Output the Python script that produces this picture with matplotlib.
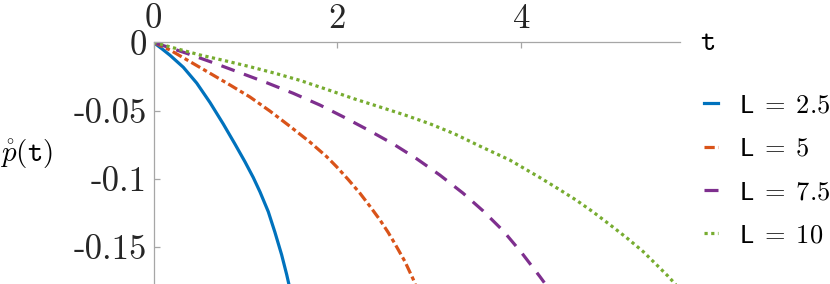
import numpy as np
import matplotlib
matplotlib.use("Agg")
import matplotlib.pyplot as plt

plt.rcParams['mathtext.fontset'] = 'cm'

# values
t_25 = [0.0, 0.09, 0.179, 0.324, 0.47, 0.614, 0.759, 0.886, 0.995, 1.085, 1.158, 1.248, 1.32,
        1.393, 1.448, 1.47]
p_25 = [0.0, -0.0046, -0.0094, -0.0182, -0.0298, -0.0440, -0.0598, -0.0745, -0.0875, -0.0990,
        -0.1095, -0.1240, -0.1390, -0.1555, -0.1700, -0.1765]

t_5 = [0.0, 0.18, 0.397, 0.614, 0.832, 1.049, 1.266, 1.484, 1.701, 1.883, 1.99, 2.118, 2.245,
       2.353, 2.462, 2.552, 2.625, 2.734, 2.824, 2.85]
p_5 = [0.0, -0.0056, -0.0141, -0.0226, -0.0312, -0.0400, -0.0503, -0.0615, -0.0730, -0.0837,
       -0.0910, -0.1005, -0.1105, -0.1200, -0.1300, -0.1392, -0.1475, -0.1605, -0.1735, -0.178]

t_75 = [0.0, 0.361, 0.65, 0.94, 1.23, 1.52, 1.81, 2.063, 2.335, 2.607, 2.861, 3.114, 3.367,
        3.585, 3.802, 4.002, 4.201, 4.25]
p_75 = [0.0, -0.008, -0.0149, -0.0222, -0.0295, -0.0373, -0.0459, -0.0545, -0.0642, -0.0744,
        -0.0852, -0.0972, -0.1105, -0.1235, -0.1380, -0.1540, -0.1715, -0.176]

t_10 = [0.0, 0.505, 0.777, 1.049, 1.321, 1.592, 1.883, 2.19, 2.462, 2.734, 3.005, 3.277, 3.549,
        3.875, 4.201, 4.4, 4.6, 4.78, 4.962, 5.143, 5.324, 5.469, 5.596, 5.68]
p_10 = [0.0, -0.0092, -0.0134, -0.0178, -0.0226, -0.0278, -0.0344, -0.0415, -0.0473, -0.0532,
        -0.0596, -0.0671, -0.0760, -0.0862, -0.0990, -0.1072, -0.1157, -0.1242, -0.1335, -0.1430,
        -0.1532, -0.1628, -0.1713, -0.1775]

labels = [r'$\mathsf{L}\;=\;2.5$', r'$\mathsf{L}\;=\;5$', r'$\mathsf{L}\;=\;7.5$', r'$\mathsf{L}\;=\;10$']
xticks = [0, 2, 4]
yticks = [0, -0.05, -0.1, -0.15]
yticklabels = ['0', '-0.05', '-0.1', '-0.15']

fig = plt.figure(figsize=(8.3, 2.84), dpi=100)
ax = fig.add_axes([153.5 / 830, 0.0, 526 / 830, 241.6 / 284])

lw = 2.3
ax.plot(t_25, p_25, color='#0072BD', lw=lw, label=labels[0])
ax.plot(t_5, p_5, color='#D95319', lw=lw, dashes=(3.2, 1.1, 1.3, 1.1), label=labels[1])
ax.plot(t_75, p_75, color='#7E2F8E', lw=lw, dashes=(4.4, 3.1), label=labels[2])
ax.plot(t_10, p_10, color='#77AC30', lw=lw, dashes=(1, 1.1), dash_capstyle='butt', label=labels[3])

ax.set_xlim(0, 5.72)
ax.set_ylim(-0.177, 0)

ax.spines['right'].set_visible(False)
ax.spines['bottom'].set_visible(False)
for s in ('top', 'left'):
    ax.spines[s].set_color('#a6a6a6')
    ax.spines[s].set_linewidth(0.9)

ax.xaxis.tick_top()
ax.set_xticks(xticks)
ax.set_xticklabels([str(v) for v in xticks], fontfamily='cmr10', fontsize=25, color='#262626',
                   va='baseline')
ax.set_yticks(yticks)
ax.set_yticklabels(yticklabels, fontfamily='cmr10', fontsize=25, color='#262626')
ax.tick_params(direction='in', length=4, width=0.9, color='#a6a6a6', pad=5)
ax.tick_params(axis='x', pad=10.5)

fig.text(700 / 830, 1 - 42 / 284, r'$\mathtt{t}$', fontsize=21, ha='left', va='center')
fig.text(0, 1 - 154 / 284, r'$\mathring{p}(\mathtt{t})$', fontsize=21, ha='left', va='center')

leg = ax.legend(loc='center left', bbox_to_anchor=(680 / 830, 1 - 170.5 / 284),
                bbox_transform=fig.transFigure, frameon=False, fontsize=19,
                handlelength=0.55, handletextpad=0.8, labelspacing=0.66)

fig.savefig('out.png', dpi=100)
